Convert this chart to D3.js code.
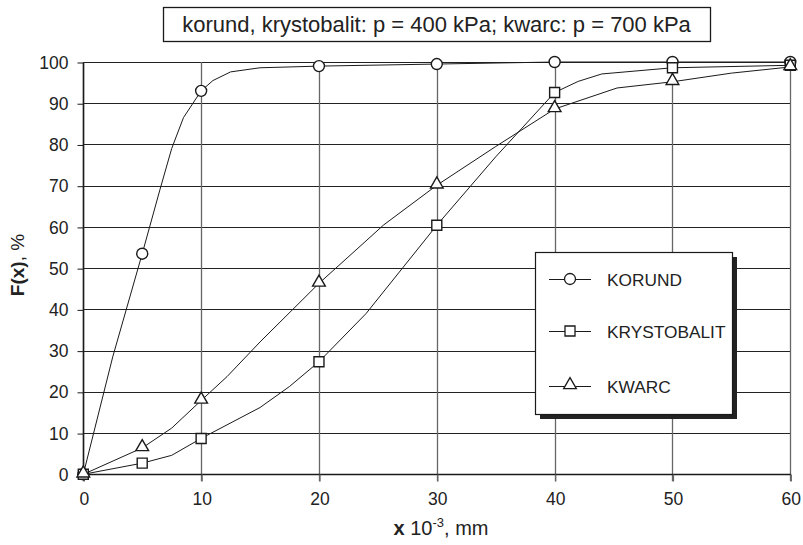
<!DOCTYPE html>
<html>
<head>
<meta charset="utf-8">
<script src="https://cdn.jsdelivr.net/npm/d3@7"></script>
<style>
  html, body { margin: 0; padding: 0; background: #fff; }
  svg { display: block; font-family: Arial, "Liberation Sans", sans-serif; }
</style>
</head>
<body>
<svg id="chart" width="803" height="545"></svg>
<script>
// ---- data ----
const titleText = "korund, krystobalit: p = 400 kPa; kwarc: p = 700 kPa";
const seriesNames = ["KORUND", "KRYSTOBALIT", "KWARC"];
const xTicks = [0, 10, 20, 30, 40, 50, 60];
const yTicks = [0, 10, 20, 30, 40, 50, 60, 70, 80, 90, 100];

// measured points (with markers)
const markerX = [0, 5, 10, 20, 30, 40, 50, 60];
const korundMarkers = [0, 53.5, 93, 99, 99.5, 100, 100, 100];
const krystMarkers  = [0, 2.7, 8.7, 27.3, 60.4, 92.6, 98.6, 99.2];
const kwarcMarkers  = [0, 6.4, 17.9, 46.3, 70.1, 88.6, 95.2, 98.8];

// curve points (line through measured + intermediate points)
const korundLineX = [0, 2.5, 5, 6.5, 7.5, 8.5, 10, 11, 12.5, 15, 20, 30, 40, 50, 60];
const korundLineY = [0, 28.5, 53.5, 69, 79, 86.5, 93, 95.5, 97.6, 98.6, 99, 99.5, 100, 100, 100];
const krystLineX = [0, 5, 7.5, 10, 15, 17.5, 20, 24, 30, 35, 40, 42, 44, 50, 60];
const krystLineY = [0, 2.7, 4.6, 8.7, 16.2, 21.3, 27.3, 39, 60.4, 77, 92.6, 95.3, 97.1, 98.6, 99.2];
const kwarcLineX = [0, 5, 7.5, 10, 12.2, 15, 20, 25.5, 30, 35, 40, 45.3, 50, 55, 60];
const kwarcLineY = [0, 6.4, 11.2, 17.9, 23.7, 32.1, 46.3, 60.5, 70.1, 79.5, 88.6, 93.7, 95.2, 97.3, 98.8];

// ---- layout ----
const svg = d3.select("#chart");
const pL = 83.3, pR = 790.3, pT = 62, pB = 474.3;
const x = d3.scaleLinear().domain([0, 60]).range([pL, pR]);
const y = d3.scaleLinear().domain([0, 100]).range([pB, pT]);
const ink = "#1a1a1a";

// gridlines
svg.append("g").selectAll("line").data(yTicks).join("line")
  .attr("x1", pL).attr("x2", pR)
  .attr("y1", d => Math.round(y(d)) + 0.5).attr("y2", d => Math.round(y(d)) + 0.5)
  .attr("stroke", "#222").attr("stroke-width", 1);
svg.append("g").selectAll("line").data(xTicks).join("line")
  .attr("x1", d => Math.round(x(d)) + 0.5).attr("x2", d => Math.round(x(d)) + 0.5)
  .attr("y1", pT).attr("y2", pB + 7)
  .attr("stroke", "#666").attr("stroke-width", 1.3);

// axes
const yAxis = d3.axisLeft(y).tickValues(yTicks).tickSize(6).tickPadding(9).tickFormat(d3.format("d"));
const gy = svg.append("g").attr("transform", `translate(${Math.round(pL) + 0.5},0.5)`).call(yAxis);
gy.select(".domain").attr("stroke", ink).attr("stroke-width", 1.5).attr("d", `M0,${pT}V${pB}`);
gy.selectAll(".tick line").attr("stroke", ink);
gy.selectAll("text").attr("font-size", 17.5).attr("fill", "#222").attr("font-family", "Arial, 'Liberation Sans', sans-serif");

const xAxis = d3.axisBottom(x).tickValues(xTicks).tickSize(7).tickPadding(11).tickFormat(d3.format("d"));
const gx = svg.append("g").attr("transform", `translate(0.5,${Math.round(pB) + 0.5})`).call(xAxis);
gx.select(".domain").attr("stroke", ink).attr("stroke-width", 1.5).attr("d", `M${pL},0H${pR}`);
gx.selectAll(".tick line").attr("stroke", "#666").attr("stroke-width", 1.3);
gx.selectAll("text").attr("font-size", 17.5).attr("fill", "#222").attr("font-family", "Arial, 'Liberation Sans', sans-serif");

// lines
const lineGen = d3.line().x(d => x(d[0])).y(d => y(d[1]));
const lines = [
  d3.zip(korundLineX, korundLineY),
  d3.zip(krystLineX, krystLineY),
  d3.zip(kwarcLineX, kwarcLineY)
];
svg.append("g").selectAll("path").data(lines).join("path")
  .attr("d", lineGen).attr("fill", "none").attr("stroke", ink).attr("stroke-width", 1);

// markers
const markerSym = [d3.symbolCircle, d3.symbolSquare, d3.symbolTriangle];
const markerSize = [95, 100, 70];
const markerData = [korundMarkers, krystMarkers, kwarcMarkers];
markerData.forEach((vals, i) => {
  svg.append("g").selectAll("path").data(d3.zip(markerX, vals)).join("path")
    .attr("transform", d => `translate(${x(d[0])},${y(d[1]) + (i === 2 ? -1 : 0)})`)
    .attr("d", d3.symbol(markerSym[i], markerSize[i]))
    .attr("fill", "#fff").attr("stroke", ink).attr("stroke-width", 1.4);
});

// title box
const tb = { x0: 163, x1: 710, y0: 7, y1: 41 };
svg.append("rect").attr("x", tb.x0 + 0.5).attr("y", tb.y0 + 0.5)
  .attr("width", tb.x1 - tb.x0).attr("height", tb.y1 - tb.y0)
  .attr("fill", "#fff").attr("stroke", ink).attr("stroke-width", 1.3);
svg.append("text").attr("x", (tb.x0 + tb.x1) / 2).attr("y", 32)
  .attr("text-anchor", "middle").attr("font-size", 22).attr("fill", "#222")
  .text(titleText);

// legend
const lg = { x0: 535, y0: 252, x1: 732, y1: 414 };
svg.append("rect").attr("x", lg.x0 + 5).attr("y", lg.y0 + 5)
  .attr("width", lg.x1 - lg.x0).attr("height", lg.y1 - lg.y0).attr("fill", "#222");
svg.append("rect").attr("x", lg.x0 + 0.5).attr("y", lg.y0 + 0.5)
  .attr("width", lg.x1 - lg.x0).attr("height", lg.y1 - lg.y0)
  .attr("fill", "#fff").attr("stroke", ink).attr("stroke-width", 1.2);
const rowY = [279, 331, 386];
seriesNames.forEach((name, i) => {
  svg.append("line").attr("x1", 549).attr("x2", 591).attr("y1", rowY[i] + 0.5).attr("y2", rowY[i] + 0.5)
    .attr("stroke", ink).attr("stroke-width", 1);
  svg.append("path").attr("transform", `translate(570,${rowY[i] + (i === 2 ? -1 : 0)})`)
    .attr("d", d3.symbol(markerSym[i], markerSize[i]))
    .attr("fill", "#fff").attr("stroke", ink).attr("stroke-width", 1.3);
  svg.append("text").attr("x", 607).attr("y", rowY[i] + 6.5)
    .attr("font-size", 17.3).attr("fill", "#222").text(name);
});

// y-axis label
const yl = svg.append("text").attr("transform", "translate(24,265) rotate(-90)")
  .attr("text-anchor", "middle").attr("font-size", 19).attr("fill", "#222");
yl.append("tspan").attr("font-weight", "bold").text("F(x)");
yl.append("tspan").text(", %");

// x-axis label
const xl = svg.append("text").attr("x", 441).attr("y", 535)
  .attr("text-anchor", "middle").attr("font-size", 20).attr("fill", "#222");
xl.append("tspan").attr("font-weight", "bold").text("x");
xl.append("tspan").text(" 10");
xl.append("tspan").attr("font-size", 13).attr("dy", -8).text("-3");
xl.append("tspan").attr("dy", 8).text(", mm");
</script>
</body>
</html>
